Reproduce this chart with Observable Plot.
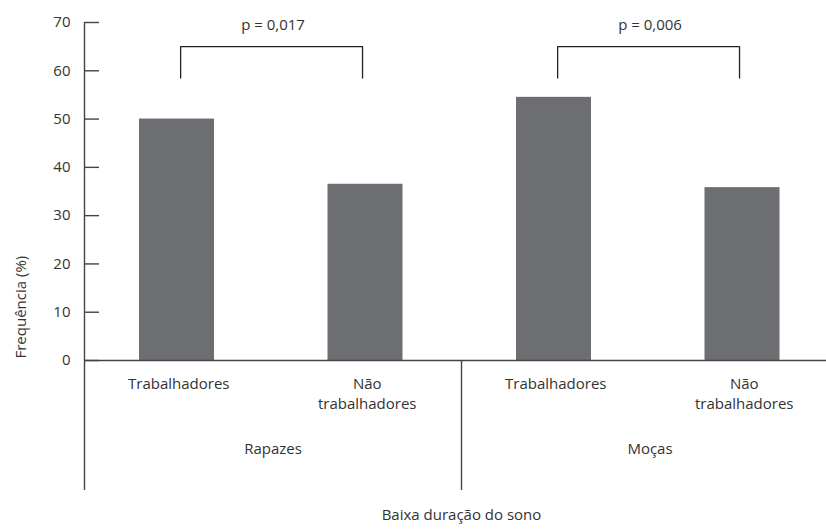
<!DOCTYPE html>
<html>
<head>
<meta charset="utf-8">
<script src="https://cdn.jsdelivr.net/npm/d3@7"></script>
<script src="https://cdn.jsdelivr.net/npm/@observablehq/plot@0.6"></script>
<style>
  html, body { margin: 0; padding: 0; background: #fff; }
  #chart svg { display: block; }
</style>
</head>
<body>
<div id="chart"></div>
<script>
// ---- data ----
const groups = ["Rapazes", "Moças"];
const categories = ["Trabalhadores", "Não\ntrabalhadores"];
const rapazesValues = [50.0, 36.5];
const mocasValues = [54.5, 35.8];
const pLabels = ["p = 0,017", "p = 0,006"];
const yTicks = [0, 10, 20, 30, 40, 50, 60, 70];
const bracketTop = 65;
const bracketLeg = 58.5;
const yTitle = "Frequência (%)";
const xTitle = "Baixa duração do sono";

// ---- layout ----
const W = 826, H = 531;
const marginLeft = 84, marginTop = 22, marginBottom = 41;
const yZeroPx = 360;

// ---- derived tables ----
const seriesValues = [rapazesValues, mocasValues];
const bars = [];
groups.forEach((g, gi) => {
  categories.forEach((c, ci) => {
    bars.push({group: g, category: c, pos: gi * categories.length + ci, value: seriesValues[gi][ci]});
  });
});
const groupInfo = groups.map((g, gi) => ({
  group: g,
  start: gi * categories.length,
  center: gi * categories.length + categories.length / 2,
  p: pLabels[gi]
}));
const bracketInsetL = 0.01, bracketInsetR = 0.025;
const brackets = groupInfo.flatMap(d => {
  const a = d.start + 0.5 + bracketInsetL, b = d.start + categories.length - 0.5 - bracketInsetR;
  return [
    {group: d.group, x: a, y: bracketLeg},
    {group: d.group, x: a, y: bracketTop},
    {group: d.group, x: b, y: bracketTop},
    {group: d.group, x: b, y: bracketLeg}
  ];
});
const nSlots = groups.length * categories.length;

const ink = "#333333";
const lineInk = "#444444";
const font = "'Open Sans', Lato, sans-serif";
const fs = 15;

const chart = Plot.plot({
  width: W,
  height: H,
  marginLeft,
  marginRight: 0,
  marginTop,
  marginBottom,
  style: {fontFamily: font, fontSize: fs + "px", color: ink, background: "#fff"},
  x: {type: "linear", domain: [0, nSlots], range: [marginLeft, marginLeft + 754], axis: null},
  y: {domain: [0, 70], range: [yZeroPx, marginTop], axis: null},
  marks: [
    Plot.rectY(bars, {x: "pos", interval: 1, y: "value", insetLeft: 55, insetRight: 58.5, fill: "#6d6e71"}),
    // baseline
    Plot.ruleY([0], {stroke: lineInk, strokeWidth: 1.4}),
    // y axis line (first group) spanning full frame
    Plot.ruleX(groupInfo.slice(0, 1), {x: "start", stroke: lineInk, strokeWidth: 1.4}),
    // dividers between groups, from the baseline down
    Plot.ruleX(groupInfo.slice(1), {x: "start", insetTop: yZeroPx - marginTop, stroke: lineInk, strokeWidth: 1.4}),
    Plot.axisY({ticks: yTicks, tickSize: -15, tickPadding: 29, stroke: lineInk, strokeWidth: 1.4, fill: ink, fontSize: fs, fontFamily: font, label: null}),
    // category labels
    Plot.text(bars, {x: d => d.pos + 0.5, y: 0, text: "category", lineAnchor: "top", dy: 14, lineHeight: 1.33, fill: ink, fontSize: fs, fontFamily: font}),
    // group labels
    Plot.text(groupInfo, {x: "center", y: 0, text: "group", dy: 89, fill: ink, fontSize: fs, fontFamily: font}),
    // brackets
    Plot.line(brackets, {x: "x", y: "y", z: "group", stroke: "#222", strokeWidth: 1.3}),
    Plot.text(groupInfo, {x: "center", y: bracketTop, text: "p", dy: -21, fill: ink, fontSize: fs, fontFamily: font}),
    // axis titles
    Plot.text([xTitle], {x: nSlots / 2, frameAnchor: "bottom", text: d => d, dy: 29, fill: ink, fontSize: fs, fontFamily: font}),
    Plot.text([yTitle], {y: 0, frameAnchor: "left", text: d => d, rotate: -90, textAnchor: "start", dx: -63, dy: -2, fill: ink, fontSize: fs, fontFamily: font})
  ]
});
document.getElementById("chart").appendChild(chart);
</script>
</body>
</html>
